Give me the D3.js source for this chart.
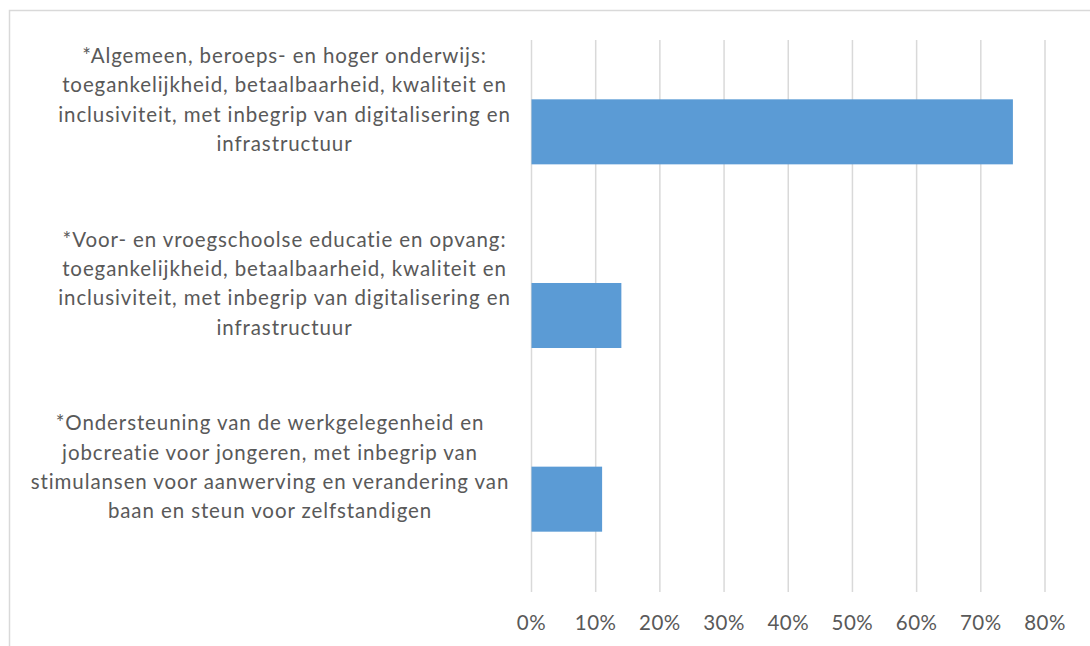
<!DOCTYPE html>
<html>
<head>
<meta charset="utf-8">
<script src="https://d3js.org/d3.v7.min.js"></script>
<style>
  body { margin: 0; background: #fff; }
</style>
</head>
<body>
<div id="chart"></div>
<script>

// categories (top to bottom), each split in the lines used on the chart
var categories = [
  ["*Algemeen, beroeps- en hoger onderwijs:",
   "toegankelijkheid, betaalbaarheid, kwaliteit en",
   "inclusiviteit, met inbegrip van digitalisering en",
   "infrastructuur"],
  ["*Voor- en vroegschoolse educatie en opvang:",
   "toegankelijkheid, betaalbaarheid, kwaliteit en",
   "inclusiviteit, met inbegrip van digitalisering en",
   "infrastructuur"],
  ["*Ondersteuning van de werkgelegenheid en",
   "jobcreatie voor jongeren, met inbegrip van",
   "stimulansen voor aanwerving en verandering van",
   "baan en steun voor zelfstandigen"]
];
var values = [0.75, 0.14, 0.11];
var ticks = [0, 0.1, 0.2, 0.3, 0.4, 0.5, 0.6, 0.7, 0.8];

var W = 1090, H = 646;
var margin = {top: 40, right: 45, bottom: 55, left: 531.5};
var width = W - margin.left - margin.right,
    height = H - margin.top - margin.bottom;

var font = "Lato, 'Liberation Sans', sans-serif";
var textColor = "#595959";

var svg = d3.select("#chart").append("svg")
  .attr("width", W)
  .attr("height", H);

// outer chart border
svg.append("rect")
  .attr("x", 9.5).attr("y", 10.5)
  .attr("width", W + 20).attr("height", H + 20)
  .attr("fill", "none")
  .attr("stroke", "#d9d9d9")
  .attr("stroke-width", 1.5);

var g = svg.append("g")
  .attr("transform", "translate(" + margin.left + "," + margin.top + ")");

var x = d3.scaleLinear().domain([0, 0.8]).range([0, width]);
var y = d3.scaleBand().domain(d3.range(categories.length)).range([0, height]).paddingInner(0.646).paddingOuter(0.323);

// gridlines
g.append("g").selectAll("line")
  .data(ticks)
  .enter().append("line")
    .attr("x1", function(d) { return x(d); })
    .attr("x2", function(d) { return x(d); })
    .attr("y1", 0)
    .attr("y2", height + 1)
    .attr("stroke", "#d9d9d9")
    .attr("stroke-width", 1.5);

// bars
g.append("g").selectAll("rect")
  .data(values)
  .enter().append("rect")
    .attr("x", x(0))
    .attr("y", function(d, i) { return y(i); })
    .attr("width", function(d) { return x(d) - x(0); })
    .attr("height", y.bandwidth())
    .attr("fill", "#5b9bd5");

// x tick labels
var fmt = d3.format(".0%");
g.append("g").selectAll("text")
  .data(ticks)
  .enter().append("text")
    .attr("x", function(d) { return x(d); })
    .attr("y", height + 39)
    .attr("text-anchor", "middle")
    .attr("font-family", font)
    .attr("font-size", 20.5)
    .attr("letter-spacing", 0.5)
    .attr("fill", textColor)
    .text(function(d) { return fmt(d); });

// category labels, centred left of the plot (wrapped text box, like Excel)
var labelCenters = [284.5, 284.5, 270];
var lineH = 29.3;
var labels = g.append("g").selectAll("text")
  .data(categories)
  .enter().append("text")
    .attr("font-family", font)
    .attr("font-size", 20.5)
    .attr("letter-spacing", 0.9)
    .attr("fill", textColor)
    .attr("text-anchor", "middle");

labels.each(function(lines, i) {
  var cy = y(i) + y.bandwidth() / 2 - 32;
  var cx = labelCenters[i] - margin.left;
  var t = d3.select(this);
  lines.forEach(function(line, k) {
    t.append("tspan")
      .attr("x", cx)
      .attr("y", cy + (k - (lines.length - 1) / 2) * lineH)
      .attr("dy", "0.35em")
      .text(line);
  });
});

</script>
</body>
</html>
